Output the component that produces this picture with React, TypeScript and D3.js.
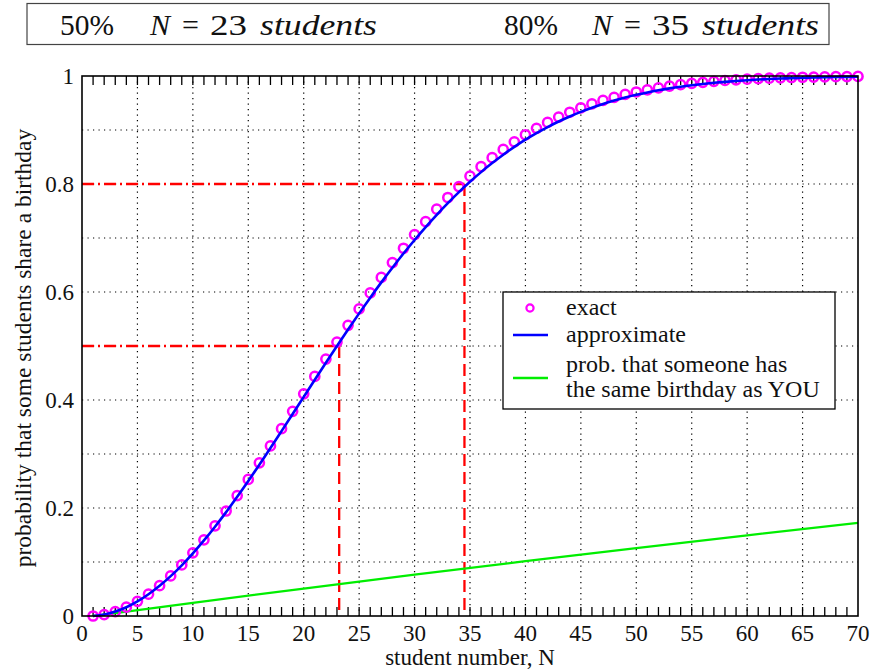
import * as d3 from "d3";

// exact probability that at least two of N students share a birthday, N = 1..70
const studentN = d3.range(1, 71);
const exactProb = [
  0, 0.0027, 0.0082, 0.0164, 0.0271, 0.0405, 0.0562, 0.0743, 0.0946, 0.117,
  0.1411, 0.167, 0.1944, 0.2231, 0.2529, 0.2836, 0.315, 0.3469, 0.3791, 0.4114,
  0.4437, 0.4757, 0.5073, 0.5383, 0.5687, 0.5982, 0.6269, 0.6545, 0.681, 0.7063,
  0.7305, 0.7533, 0.775, 0.7953, 0.8144, 0.8322, 0.8487, 0.8641, 0.8782, 0.8912,
  0.9032, 0.914, 0.9239, 0.9329, 0.941, 0.9483, 0.9548, 0.9606, 0.9658, 0.9704,
  0.9744, 0.978, 0.9811, 0.9839, 0.9863, 0.9883, 0.9901, 0.9917, 0.993, 0.9941,
  0.9951, 0.9959, 0.9966, 0.9972, 0.9977, 0.9981, 0.9984, 0.9987, 0.999, 0.9992,
];
const approxProb = [
  0, 0.0027, 0.0082, 0.0163, 0.027, 0.0403, 0.0559, 0.0738, 0.0939, 0.116,
  0.1399, 0.1654, 0.1924, 0.2207, 0.25, 0.2802, 0.311, 0.3424, 0.374, 0.4058,
  0.4375, 0.4689, 0.5, 0.5305, 0.5604, 0.5895, 0.6178, 0.645, 0.6712, 0.6963,
  0.7203, 0.743, 0.7646, 0.785, 0.8041, 0.822, 0.8387, 0.8543, 0.8687, 0.882,
  0.8942, 0.9055, 0.9158, 0.9251, 0.9336, 0.9413, 0.9483, 0.9545, 0.9601, 0.9651,
  0.9696, 0.9736, 0.9771, 0.9802, 0.9829, 0.9853, 0.9874, 0.9892, 0.9908, 0.9922,
  0.9934, 0.9944, 0.9953, 0.996, 0.9966, 0.9972, 0.9977, 0.9981, 0.9984, 0.9987,
];
// someone has the same birthday as you
const youN = [1, 10, 20, 30, 40, 50, 60, 70];
const youProb = [0, 0.0244, 0.0508, 0.0765, 0.1015, 0.1258, 0.1494, 0.1725];

// marker lines (N, probability)
const markerN = [23.2, 34.5];
const markerP = [0.5, 0.8];

// title box entries
const titlePct = ["50%", "80%"];
const titleN = ["23", "35"];

const xTicks = d3.range(0, 71, 5);
const yTicks = [0, 0.2, 0.4, 0.6, 0.8, 1];
const yGrid = d3.range(1, 10).map((d) => d / 10);

const legendItems = ["exact", "approximate", "prob. that someone has", "the same birthday as YOU"];

export default function App() {
  const width = 871;
  const height = 670;
  const margin = { top: 76, right: 13, bottom: 54, left: 82 };
  const innerW = width - margin.left - margin.right;
  const innerH = height - margin.top - margin.bottom;

  const x = d3.scaleLinear().domain([0, 70]).range([0, innerW]);
  const y = d3.scaleLinear().domain([0, 1]).range([innerH, 0]);

  const approxLine = d3
    .line<number>()
    .x((_, i) => x(studentN[i]))
    .y((d) => y(d))
    .curve(d3.curveMonotoneX);
  const youLine = d3
    .line<number>()
    .x((_, i) => x(youN[i]))
    .y((d) => y(d))
    .curve(d3.curveMonotoneX);

  const font = "Liberation Serif, serif";
  const minor = d3.range(1, 70);

  return (
    <svg width={width} height={height} style={{ position: "absolute", left: 0, top: 0, background: "#fff" }}>
      {/* title box */}
      <rect x={27} y={3.5} width={802} height={41} fill="#fff" stroke="#444" strokeWidth={1.2} />
      {titlePct.map((pct, i) => {
        const x0 = i === 0 ? 60 : 504;
        const n0 = i === 0 ? 150 : 592;
        return (
          <g key={pct} fontFamily={font} fontSize={30} fill="#111">
            <text x={x0} y={35} textLength={54} lengthAdjust="spacingAndGlyphs">{pct}</text>
            <text x={n0} y={35} fontStyle="italic">N</text>
            <text x={n0 + 32} y={35}>=</text>
            <text x={n0 + 60} y={35} textLength={37} lengthAdjust="spacingAndGlyphs">{titleN[i]}</text>
            <text x={n0 + 110} y={35} fontStyle="italic" textLength={117} lengthAdjust="spacingAndGlyphs">
              students
            </text>
          </g>
        );
      })}

      <g transform={`translate(${margin.left},${margin.top})`}>
        {/* grid */}
        {xTicks.slice(1, -1).map((t) => (
          <line key={"gx" + t} x1={x(t)} x2={x(t)} y1={0} y2={innerH} stroke="#000" strokeWidth={1.2} strokeDasharray="1.2 4.3" />
        ))}
        {yGrid.map((t) => (
          <line key={"gy" + t} x1={0} x2={innerW} y1={y(t)} y2={y(t)} stroke="#000" strokeWidth={1.2} strokeDasharray="1.2 4.3" />
        ))}

        {/* minor ticks bottom and top */}
        {minor.map((t) => (
          <g key={"mt" + t}>
            <line x1={x(t)} x2={x(t)} y1={innerH} y2={innerH - 9} stroke="#000" strokeWidth={1.3} />
            <line x1={x(t)} x2={x(t)} y1={0} y2={9} stroke="#000" strokeWidth={1.3} />
          </g>
        ))}

        {/* red marker lines */}
        {markerN.map((n, i) => (
          <g key={"mk" + i}>
            <line x1={0} x2={x(n)} y1={y(markerP[i])} y2={y(markerP[i])} stroke="#ff0000" strokeWidth={2.3} strokeDasharray="12 4 2 4" />
            <line x1={x(n)} x2={x(n)} y1={y(markerP[i])} y2={innerH} stroke="#ff0000" strokeWidth={2.3} strokeDasharray="12 6" />
          </g>
        ))}

        {/* green line */}
        <path d={youLine(youProb) ?? ""} fill="none" stroke="#00ee00" strokeWidth={2.3} />

        {/* exact markers */}
        {exactProb.map((p, i) => (
          <circle key={"c" + i} cx={x(studentN[i])} cy={y(p)} r={4.6} fill="none" stroke="#ff00ff" strokeWidth={2.5} />
        ))}

        {/* approximate line */}
        <path d={approxLine(approxProb) ?? ""} fill="none" stroke="#0000ff" strokeWidth={2.6} />

        {/* frame */}
        <rect x={0} y={0} width={innerW} height={innerH} fill="none" stroke="#000" strokeWidth={1.6} />

        {/* tick labels */}
        {xTicks.map((t) => (
          <text key={"xl" + t} x={x(t)} y={innerH + 25} textAnchor="middle" fontFamily={font} fontSize={23} fill="#111">
            {t}
          </text>
        ))}
        {yTicks.map((t) => (
          <text key={"yl" + t} x={-8} y={y(t) + 8} textAnchor="end" fontFamily={font} fontSize={23} fill="#111">
            {t}
          </text>
        ))}

        {/* axis titles */}
        <text x={innerW / 2} y={innerH + 49} textAnchor="middle" fontFamily={font} fontSize={23} fill="#111">
          student number, N
        </text>
        <text
          transform={`translate(${-51},${innerH / 2 + 2}) rotate(-90)`}
          textAnchor="middle"
          fontFamily={font}
          fontSize={23.5}
          fill="#111"
        >
          probability that some students share a birthday
        </text>
      </g>

      {/* legend */}
      <g transform="translate(503,292)">
        <rect x={0} y={0} width={332} height={117} fill="#fff" stroke="#000" strokeWidth={1.3} />
        <circle cx={27} cy={16} r={3.6} fill="none" stroke="#ff00ff" strokeWidth={2.2} />
        <line x1={10} x2={45} y1={43} y2={43} stroke="#0000ff" strokeWidth={2.5} />
        <line x1={10} x2={45} y1={86} y2={86} stroke="#00ee00" strokeWidth={2.5} />
        {legendItems.map((s, i) => (
          <text key={s} x={63} y={[23, 50, 80, 105][i]} fontFamily={font} fontSize={24} fill="#111">
            {s}
          </text>
        ))}
      </g>
    </svg>
  );
}
